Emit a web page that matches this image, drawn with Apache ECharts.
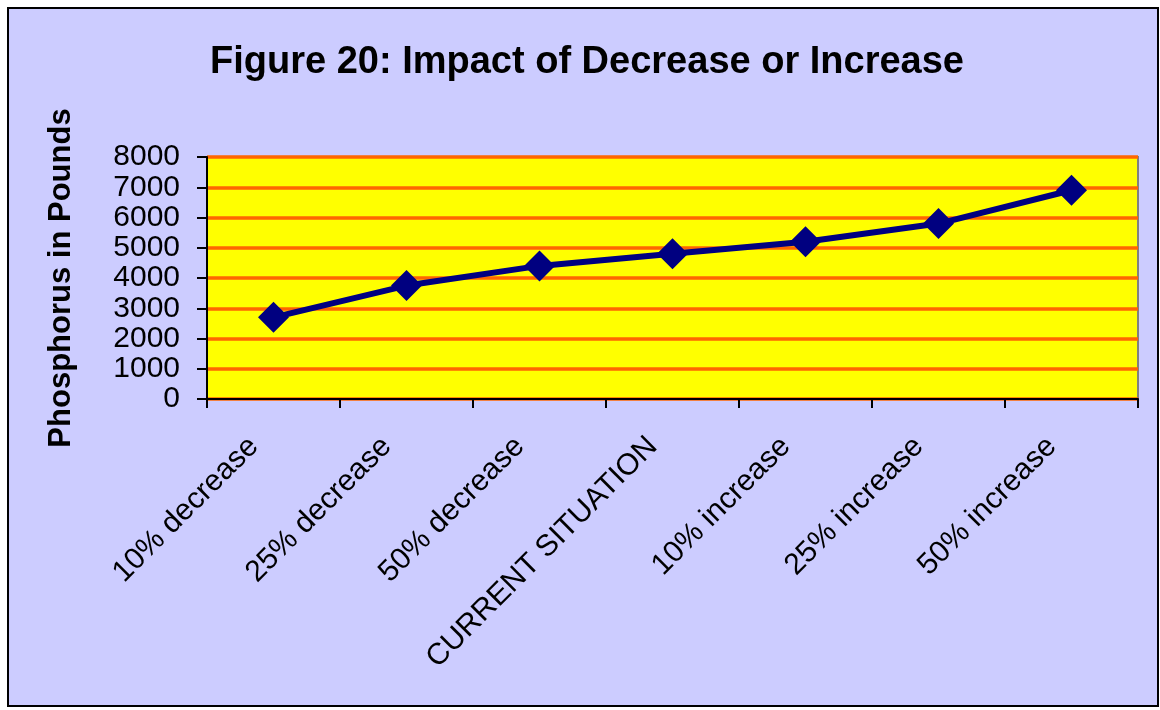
<!DOCTYPE html>
<html>
<head>
<meta charset="utf-8">
<title>Figure 20: Impact of Decrease or Increase</title>
<script src="https://cdn.jsdelivr.net/npm/echarts@6/dist/echarts.min.js"></script>
<style>
  html, body { margin: 0; padding: 0; background: #ffffff; }
  #chart { width: 1160px; height: 710px; }
</style>
</head>
<body>
<div id="chart"></div>
<script>
// Scenario categories along the x axis
const scenarios = [
  '10% decrease',
  '25% decrease',
  '50% decrease',
  'CURRENT SITUATION',
  '10% increase',
  '25% increase',
  '50% increase'
];

// Phosphorus load (pounds) for each scenario
const phosphorusPounds = [2700, 3750, 4400, 4800, 5200, 5800, 6900];

// Value axis range
const yMin = 0;
const yMax = 8000;
const yStep = 1000;

const FONT = "'Liberation Sans', Arial, sans-serif";

const chart = echarts.init(document.getElementById('chart'), null, { renderer: 'canvas' });

chart.setOption({
  animation: false,
  backgroundColor: '#ffffff',
  graphic: [{
    type: 'rect',
    z: -10,
    silent: true,
    shape: { x: 8, y: 8, width: 1150, height: 698 },
    style: { fill: '#CCCCFF', stroke: '#000000', lineWidth: 2 }
  }],
  title: {
    text: 'Figure 20: Impact of Decrease or Increase',
    left: 582,
    textAlign: 'center',
    top: 39,
    textStyle: {
      fontFamily: FONT,
      fontSize: 38,
      fontWeight: 'bold',
      color: '#000000'
    }
  },
  grid: {
    left: 207,
    right: 22,
    top: 157,
    bottom: 311,
    show: true,
    backgroundColor: '#FFFF00',
    borderColor: '#808080',
    borderWidth: 2
  },
  xAxis: {
    type: 'category',
    data: scenarios,
    boundaryGap: true,
    axisLine: { show: true, lineStyle: { color: '#000000', width: 2 } },
    axisTick: { show: true, length: 9, inside: false, lineStyle: { color: '#000000', width: 2 } },
    splitLine: { show: false },
    axisLabel: {
      interval: 0,
      rotate: 45,
      margin: 23,
      padding: [0, 28, 0, 0],
      fontFamily: FONT,
      fontSize: 30,
      color: '#000000'
    }
  },
  yAxis: {
    type: 'value',
    min: yMin,
    max: yMax,
    interval: yStep,
    name: 'Phosphorus in Pounds',
    nameLocation: 'middle',
    nameGap: 130,
    nameTextStyle: {
      fontFamily: FONT,
      fontSize: 31,
      fontWeight: 'bold',
      color: '#000000'
    },
    axisLine: { show: true, lineStyle: { color: '#000000', width: 2 } },
    axisTick: { show: true, length: 10, inside: false, lineStyle: { color: '#000000', width: 2 } },
    splitLine: { show: true, lineStyle: { color: '#FF6600', width: 3.5 } },
    axisLabel: {
      margin: 27,
      fontFamily: FONT,
      fontSize: 30,
      color: '#000000',
      formatter: function (v) { return String(v); }
    }
  },
  series: [{
    type: 'line',
    data: phosphorusPounds,
    symbol: 'diamond',
    symbolSize: 31,
    showAllSymbol: true,
    lineStyle: { color: '#000080', width: 6 },
    itemStyle: { color: '#000080', borderWidth: 0 },
    emphasis: { disabled: true }
  }]
});
</script>
</body>
</html>
